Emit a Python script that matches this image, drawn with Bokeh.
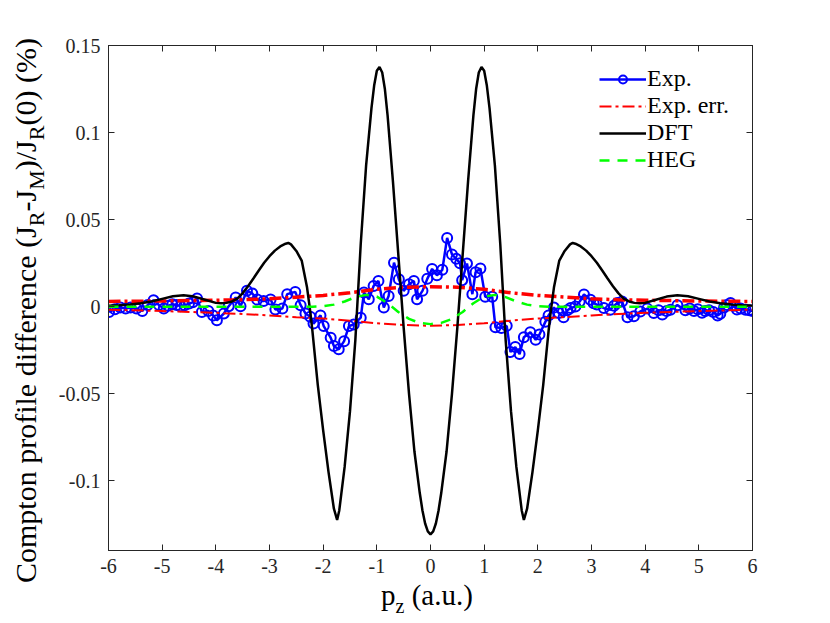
from bokeh.plotting import figure
from bokeh.layouts import row, column
from bokeh.models import Range1d, LinearAxis, FixedTicker, Legend, LegendItem, Div
from bokeh.embed import file_html
from bokeh.resources import INLINE

# ---------------- data ----------------
exp_p = [-5.99, -5.88, -5.78, -5.68, -5.59, -5.48, -5.37, -5.27, -5.16, -5.06,
         -4.97, -4.89, -4.81, -4.73, -4.66, -4.58, -4.50, -4.43, -4.35, -4.26,
         -4.14, -4.05, -3.98, -3.85, -3.76, -3.63, -3.54, -3.42, -3.32, -3.23,
         -3.11, -2.98, -2.89, -2.76, -2.67, -2.52, -2.42, -2.33, -2.24,
         -2.18, -2.05, -1.99, -1.86, -1.80, -1.71, -1.61, -1.52, -1.43, -1.30,
         -1.24, -1.15, -1.06, -0.97, -0.87, -0.78, -0.68, -0.59, -0.50, -0.40,
         -0.31, -0.25, -0.15, -0.06, 0.03, 0.12, 0.22, 0.31, 0.40, 0.48,
         0.55, 0.59, 0.68, 0.78, 0.84, 0.93, 1.02, 1.15, 1.21, 1.32,
         1.42, 1.49, 1.58, 1.66, 1.74, 1.86, 1.96, 2.03, 2.14, 2.20,
         2.30, 2.39, 2.48, 2.55, 2.61, 2.70, 2.78, 2.86, 2.98, 3.04,
         3.10, 3.23, 3.35, 3.42, 3.48, 3.57, 3.67, 3.79, 3.91, 4.04,
         4.16, 4.25, 4.32, 4.40, 4.47, 4.60, 4.75, 4.83, 4.91, 4.98,
         5.06, 5.12, 5.19, 5.27, 5.35, 5.40, 5.47, 5.52, 5.59, 5.65,
         5.71, 5.78, 5.87, 5.94, 6.00]
exp_v = [-0.0030, -0.0015, -0.0005, -0.0010, -0.0005, -0.0010, -0.0024, 0.0010, 0.0037, 0.0010,
         -0.0010, 0.0005, 0.0014, 0.0010, 0.0003, 0.0008, 0.0018, 0.0025, 0.0047, -0.0030,
         -0.0024, -0.0050, -0.0078, -0.0039, 0.0003, 0.0053, 0.0003, 0.0091, 0.0076, 0.0041,
         0.0033, 0.0041, -0.0016, -0.0010, 0.0072, 0.0085, 0.0009, -0.0039, -0.0058,
         -0.0097, -0.0050, -0.0111, -0.0178, -0.0226, -0.0245, -0.0198, -0.0111, -0.0102, -0.0063,
         0.0081, 0.0043, 0.0119, 0.0148, -0.0005, 0.0062, 0.0253, 0.0158, 0.0091, 0.0129,
         0.0148, 0.0043, 0.0091, 0.0160, 0.0217, 0.0180, 0.0212, 0.0395, 0.0300, 0.0275,
         0.0250, 0.0152, 0.0248, 0.0072, 0.0198, 0.0220, 0.0057, 0.0057, -0.0118, -0.0122,
         -0.0110, -0.0260, -0.0232, -0.0272, -0.0175, -0.0147, -0.0190, -0.0160, -0.0087, -0.0050,
         -0.0005, -0.0036, -0.0060, -0.0020, -0.0008, 0.0001, 0.0030, 0.0070, 0.0040, 0.0020,
         0.0012, -0.0008, -0.0017, 0.0005, 0.0021, 0.0030, -0.0060, -0.0055, -0.0027, -0.0011,
         -0.0036, -0.0020, -0.0045, -0.0025, -0.0017, 0.0009, -0.0020, -0.0010, -0.0024, -0.0015,
         -0.0035, -0.0025, -0.0020, -0.0030, -0.0050, -0.0040, -0.0005, 0.0010, 0.0022, 0.0005,
         -0.0016, -0.0010, -0.0017, -0.0020, -0.0025]

dft_p = [-6.0, -5.8, -5.6, -5.4, -5.2, -5.0, -4.8, -4.6, -4.4, -4.2, -4.0, -3.9, -3.8, -3.7,
         -3.6, -3.5, -3.4, -3.3, -3.2, -3.1, -3.0, -2.9, -2.8, -2.7, -2.65, -2.6, -2.5, -2.4,
         -2.3, -2.24, -2.2, -2.1, -2.0, -1.9, -1.8, -1.74, -1.7, -1.6, -1.5, -1.4, -1.3, -1.2,
         -1.1, -1.05, -1.0, -0.95, -0.9, -0.85, -0.8, -0.7, -0.6, -0.5, -0.4, -0.3, -0.2, -0.15,
         -0.1, -0.05, 0.0,
         0.05, 0.1, 0.15, 0.2, 0.3, 0.4, 0.5, 0.6, 0.7, 0.8, 0.85, 0.9, 0.95, 1.0, 1.05, 1.1,
         1.2, 1.3, 1.4, 1.5, 1.6, 1.7, 1.74, 1.8, 1.9, 2.0, 2.1, 2.2, 2.24, 2.3, 2.4, 2.5, 2.6,
         2.65, 2.7, 2.8, 2.9, 3.0, 3.1, 3.2, 3.3, 3.4, 3.5, 3.6, 3.7, 3.8, 3.9, 4.0, 4.2, 4.4,
         4.6, 4.8, 5.0, 5.2, 5.4, 5.6, 5.8, 6.0]
dft_v = [0.0005, 0.0008, 0.0013, 0.0020, 0.0030, 0.0045, 0.0060, 0.0066, 0.0058, 0.0040, 0.0022, 0.0020, 0.0022, 0.0030,
         0.0046, 0.0078, 0.0118, 0.0162, 0.0208, 0.0252, 0.0290, 0.0322, 0.0346, 0.0362, 0.0366, 0.0358, 0.0320, 0.0265,
         0.0110, -0.0030, -0.0140, -0.0450, -0.0710, -0.0950, -0.1160, -0.1225, -0.1170, -0.0920, -0.0600, -0.0190, 0.0360, 0.0810,
         0.1140, 0.1270, 0.1355, 0.1377, 0.1345, 0.1250, 0.1100, 0.0720, 0.0300, -0.0120, -0.0500, -0.0830, -0.1070, -0.1170,
         -0.1245, -0.1290, -0.1307,
         -0.1290, -0.1245, -0.1170, -0.1070, -0.0830, -0.0500, -0.0120, 0.0300, 0.0720, 0.1100, 0.1250, 0.1345, 0.1377, 0.1355, 0.1270, 0.1140,
         0.0810, 0.0360, -0.0190, -0.0600, -0.0920, -0.1170, -0.1225, -0.1160, -0.0950, -0.0710, -0.0450, -0.0140, -0.0030, 0.0110, 0.0265, 0.0320, 0.0358,
         0.0366, 0.0362, 0.0346, 0.0322, 0.0290, 0.0252, 0.0208, 0.0162, 0.0118, 0.0078, 0.0046, 0.0030, 0.0022, 0.0020, 0.0022, 0.0040, 0.0058,
         0.0066, 0.0060, 0.0045, 0.0030, 0.0020, 0.0013, 0.0008, 0.0005]

heg_p = [-6.0, -2.6, -2.2, -2.0, -1.8, -1.6, -1.4, -1.2, -1.0, -0.8, -0.6, -0.4, -0.2, 0.0,
         0.2, 0.4, 0.6, 0.8, 1.0, 1.2, 1.4, 1.6, 1.8, 2.0, 2.2, 2.6, 6.0]
heg_v = [0.0, 0.0, 0.0, 0.0003, 0.0012, 0.0030, 0.0055, 0.0068, 0.0058, 0.0020, -0.0030, -0.0070, -0.0093, -0.0100,
         -0.0093, -0.0070, -0.0030, 0.0020, 0.0058, 0.0068, 0.0055, 0.0030, 0.0012, 0.0003, 0.0, 0.0, 0.0]

err_p = [-6.0, -5.0, -4.0, -3.5, -3.0, -2.5, -2.0, -1.5, -1.0, -0.5, 0.0,
         0.5, 1.0, 1.5, 2.0, 2.5, 3.0, 3.5, 4.0, 5.0, 6.0]
err_hi = [0.0030, 0.0033, 0.0037, 0.0040, 0.0045, 0.0055, 0.0065, 0.0080, 0.0100, 0.0112, 0.0115,
          0.0112, 0.0100, 0.0080, 0.0065, 0.0055, 0.0045, 0.0040, 0.0037, 0.0033, 0.0030]
err_lo = [-0.0017, -0.0025, -0.0035, -0.0042, -0.0050, -0.0060, -0.0068, -0.0080, -0.0095, -0.0105, -0.0110,
          -0.0105, -0.0095, -0.0080, -0.0068, -0.0060, -0.0050, -0.0042, -0.0035, -0.0025, -0.0017]

x_ticks = [-6, -5, -4, -3, -2, -1, 0, 1, 2, 3, 4, 5, 6]
x_tick_labels = ["-6", "-5", "-4", "-3", "-2", "-1", "0", "1", "2", "3", "4", "5", "6"]
y_ticks = [-0.1, -0.05, 0, 0.05, 0.1, 0.15]
y_tick_labels = ["-0.1", "-0.05", "0", "0.05", "0.1", "0.15"]

x_title = [("p", False), ("z", True), (" (a.u.)", False)]
y_title = [("Compton profile difference (J", False), ("R", True), ("-J", False), ("M", True),
           (")/J", False), ("R", True), ("(0) (%)", False)]

FONT = "Liberation Serif"
AX = "#262626"

# ---------------- layout geometry (pixels) ----------------
YLAB_W = 50
ML, MR, MT, MB = 58, 70, 45, 35
FW, FH = 644, 505
MAIN_H = MT + FH + MB
TOTAL_W = YLAB_W + ML + FW + MR
XLAB_H = 38

# ---------------- main figure ----------------
p = figure(frame_width=FW, frame_height=FH, x_range=Range1d(-6, 6), y_range=Range1d(-0.14, 0.15),
           output_backend="svg", toolbar_location=None,
           min_border_left=ML, min_border_right=MR, min_border_top=MT, min_border_bottom=MB)
p.grid.visible = False
p.outline_line_color = AX
p.background_fill_color = "white"
p.border_fill_color = "white"

def style_axis(ax, labels=True):
    ax.axis_line_color = AX
    ax.axis_line_width = 1
    ax.major_tick_line_color = AX
    ax.major_tick_in = 6
    ax.major_tick_out = 0
    ax.minor_tick_line_color = None
    ax.major_label_text_font = FONT
    ax.major_label_text_color = AX
    ax.major_label_text_font_size = "20px"
    ax.major_label_standoff = 8
    if not labels:
        ax.major_label_text_alpha = 0
        ax.major_label_standoff = 0

p.xaxis.ticker = FixedTicker(ticks=x_ticks)
p.xaxis.major_label_overrides = dict(zip(x_ticks, x_tick_labels))
p.yaxis.ticker = FixedTicker(ticks=y_ticks)
p.yaxis.major_label_overrides = dict(zip(y_ticks, y_tick_labels))
style_axis(p.xaxis[0])
style_axis(p.yaxis[0])

top = LinearAxis(ticker=FixedTicker(ticks=x_ticks), major_label_overrides=dict(zip(x_ticks, x_tick_labels)))
right = LinearAxis(ticker=FixedTicker(ticks=y_ticks), major_label_overrides=dict(zip(y_ticks, y_tick_labels)))
style_axis(top, False)
style_axis(right, False)
p.add_layout(top, "above")
p.add_layout(right, "right")

r_exp_l = p.line(exp_p, exp_v, line_color="#0000ff", line_width=2.5)
r_exp_m = p.scatter(exp_p, exp_v, marker="circle", size=10, fill_color=None,
                    line_color="#0000ff", line_width=2)
r_err_hi = p.line(err_p, err_hi, line_color="#ff0000", line_width=3.5, line_dash="12 4 3 4")
r_err_lo = p.line(err_p, err_lo, line_color="#ff0000", line_width=2, line_dash="12 4 3 4")
r_dft = p.line(dft_p, dft_v, line_color="black", line_width=2.5)
r_heg = p.line(heg_p, heg_v, line_color="#00ff00", line_width=2.5, line_dash="10 8")

legend = Legend(items=[
    LegendItem(label="Exp.", renderers=[r_exp_l, r_exp_m]),
    LegendItem(label="Exp. err.", renderers=[r_err_lo]),
    LegendItem(label="DFT", renderers=[r_dft]),
    LegendItem(label="HEG", renderers=[r_heg]),
], location=(491, 377), border_line_color=None, background_fill_alpha=0,
    label_text_font=FONT, label_text_font_size="24px", label_text_color="black",
    glyph_width=47, glyph_height=20, label_height=20, spacing=-5,
    padding=0, margin=0, label_standoff=1)
p.add_layout(legend)

# ---------------- axis titles with subscripts (HTML text) ----------------
def title_html(pieces, sub_size, sub_drop):
    out = ""
    for t, sub in pieces:
        if sub:
            out += f'<span style="font-size:{sub_size}px;vertical-align:-{sub_drop}px;">{t}</span>'
        else:
            out += t
    return out

def base_style(size):
    return (f"position:absolute;white-space:nowrap;font-family:'{FONT}';"
            f"font-size:{size}px;line-height:{size}px;color:black;margin:0;padding:0;")

ylab = Div(text=(f'<div style="{base_style(30)}left:11px;top:583px;'
                 f'transform-origin:0 0;transform:rotate(-90deg);">{title_html(y_title, 22, 8)}</div>'),
           width=YLAB_W, height=MAIN_H, margin=0,
           styles={"position": "relative", "overflow": "visible"})
xlab = Div(text=f'<div style="{base_style(29)}left:381px;top:-4px;">{title_html(x_title, 20, 8)}</div>',
           width=TOTAL_W, height=XLAB_H, margin=0,
           styles={"position": "relative", "overflow": "visible"})

layout = column(row(ylab, p, spacing=0), xlab, spacing=0)
open("out.html", "w").write(file_html(layout, INLINE))
